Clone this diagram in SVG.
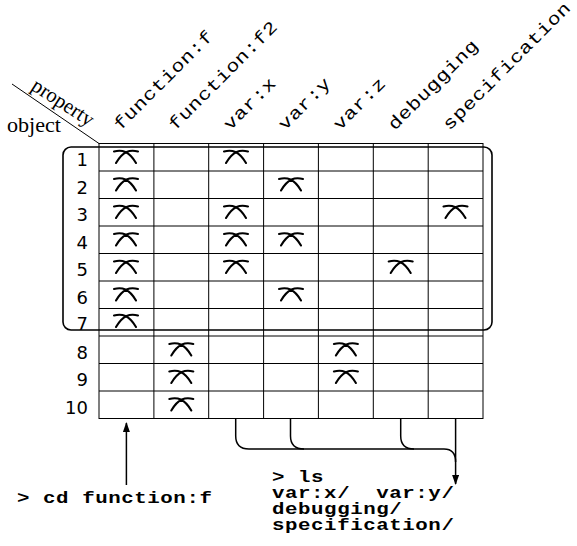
<svg xmlns="http://www.w3.org/2000/svg" width="577" height="546" viewBox="0 0 577 546">
<style>
.grid{stroke:#000;stroke-width:1;fill:none}
.hdr{font-family:"Liberation Mono","DejaVu Sans Mono",monospace;font-size:17.5px;letter-spacing:0.4px;fill:#000}
.cmd{font-family:"Liberation Mono","DejaVu Sans Mono",monospace;font-size:16.5px;font-weight:bold;letter-spacing:0.45px;fill:#000}
.num{font-family:"DejaVu Sans","Liberation Sans",sans-serif;font-size:18px;fill:#000;text-anchor:end}
.ser{font-family:"Liberation Serif","DejaVu Serif",serif;font-size:21px;fill:#000}
.conn{stroke:#000;stroke-width:1.5;fill:none}
</style>
<defs>
<path id="mk" d="M-12,-4.5 C-4,-6.5 3,-5 10,7 M12,-4.5 C4,-6.5 -3,-5 -10,7" fill="none" stroke="#000" stroke-width="2.1" stroke-linecap="round"/>
<marker id="arr" markerUnits="userSpaceOnUse" viewBox="0 0 10 10" preserveAspectRatio="none" refX="9" refY="5" markerWidth="10" markerHeight="7" orient="auto">
<path d="M0,0 L10,5 L0,10 z" fill="#000"/>
</marker>
</defs>

<g id="corner">
<line x1="12" y1="84" x2="99" y2="143.5" stroke="#000" stroke-width="1"/>
<text class="ser" transform="translate(30,89) rotate(33)" textLength="70" lengthAdjust="spacingAndGlyphs">property</text>
<text class="ser" x="7" y="132" textLength="54" lengthAdjust="spacingAndGlyphs">object</text>
</g>

<g id="headers">
<text class="hdr" transform="translate(120.4,131) rotate(-45) scale(1.22,1)">function:f</text>
<text class="hdr" transform="translate(175.3,131) rotate(-45) scale(1.22,1)">function:f2</text>
<text class="hdr" transform="translate(230.2,131) rotate(-45) scale(1.22,1)">var:x</text>
<text class="hdr" transform="translate(285,131) rotate(-45) scale(1.22,1)">var:y</text>
<text class="hdr" transform="translate(339.9,131) rotate(-45) scale(1.22,1)">var:z</text>
<text class="hdr" transform="translate(394.7,131) rotate(-45) scale(1.22,1)">debugging</text>
<text class="hdr" transform="translate(449.6,131) rotate(-45) scale(1.22,1)">specification</text>
</g>

<g id="table">
<rect class="grid" x="99" y="143.5" width="384" height="275"/>
<path class="grid" d="M99,171H483M99,198.5H483M99,226H483M99,253.5H483M99,281H483M99,308.5H483M99,336H483M99,363.5H483M99,391H483"/>
<path class="grid" d="M153.9,143.5V418.5M208.7,143.5V418.5M263.6,143.5V418.5M318.4,143.5V418.5M373.3,143.5V418.5M428.2,143.5V418.5"/>
<text class="num" x="88" y="166">1</text>
<text class="num" x="88" y="193.5">2</text>
<text class="num" x="88" y="221">3</text>
<text class="num" x="88" y="248.5">4</text>
<text class="num" x="88" y="276">5</text>
<text class="num" x="88" y="303.5">6</text>
<text class="num" x="88" y="330">7</text>
<text class="num" x="88" y="358.5">8</text>
<text class="num" x="88" y="386">9</text>
<text class="num" x="88" y="413.5">10</text>
</g>

<g id="marks">
<use href="#mk" x="126" y="156"/>
<use href="#mk" x="236" y="156"/>
<use href="#mk" x="126" y="183.5"/>
<use href="#mk" x="291" y="183.5"/>
<use href="#mk" x="126" y="211"/>
<use href="#mk" x="236" y="211"/>
<use href="#mk" x="455.5" y="211"/>
<use href="#mk" x="126" y="238.5"/>
<use href="#mk" x="236" y="238.5"/>
<use href="#mk" x="291" y="238.5"/>
<use href="#mk" x="126" y="266"/>
<use href="#mk" x="236" y="266"/>
<use href="#mk" x="400.7" y="266"/>
<use href="#mk" x="126" y="293.5"/>
<use href="#mk" x="291" y="293.5"/>
<use href="#mk" x="126" y="320"/>
<use href="#mk" x="181.3" y="348.5"/>
<use href="#mk" x="345.9" y="348.5"/>
<use href="#mk" x="181.3" y="376"/>
<use href="#mk" x="345.9" y="376"/>
<use href="#mk" x="181.3" y="403.5"/>
</g>

<g id="group-box">
<rect x="63" y="147" width="429" height="183" rx="8" fill="none" stroke="#000" stroke-width="1.6"/>
</g>

<g id="connectors">
<line class="conn" x1="126.4" y1="485" x2="126.4" y2="423" marker-end="url(#arr)"/>
<path class="conn" d="M235.7,418.5V436Q235.7,449 249,449H444Q455.6,449 455.6,462"/>
<path class="conn" d="M290.5,418.5V436Q290.5,449 304,449"/>
<path class="conn" d="M400.7,418.5V436Q400.7,449 414,449"/>
<line class="conn" x1="455.6" y1="418.5" x2="455.6" y2="484" marker-end="url(#arr)"/>
</g>

<g id="commands">
<text class="cmd" transform="translate(17,503) scale(1.26,1)">&gt; cd function:f</text>
<text class="cmd" transform="translate(272,482) scale(1.26,1)">&gt; ls</text>
<text class="cmd" transform="translate(272,498) scale(1.26,1)" xml:space="preserve">var:x/  var:y/</text>
<text class="cmd" transform="translate(272,514) scale(1.26,1)">debugging/</text>
<text class="cmd" transform="translate(272,530) scale(1.26,1)">specification/</text>
</g>
</svg>
